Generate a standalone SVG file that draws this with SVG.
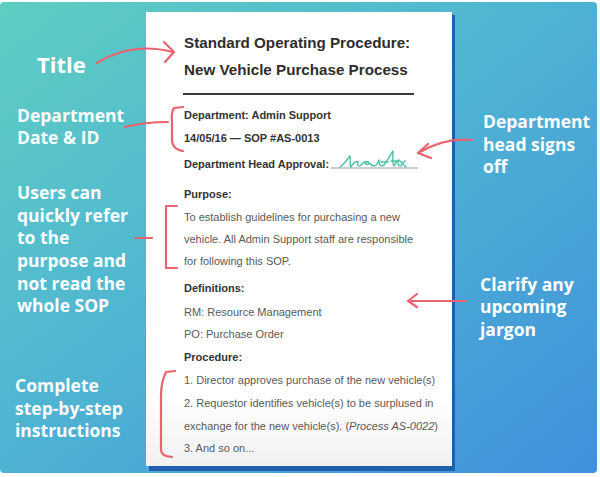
<svg xmlns="http://www.w3.org/2000/svg" width="600" height="477" viewBox="0 0 600 477">
<defs>
<linearGradient id="bg" x1="0" y1="0" x2="1" y2="1">
<stop offset="0" stop-color="#5ecec2"/>
<stop offset="0.45" stop-color="#4fb5d2"/>
<stop offset="1" stop-color="#4090dc"/>
</linearGradient>
<linearGradient id="paper" x1="0" y1="0" x2="0" y2="1">
<stop offset="0.85" stop-color="#ffffff"/>
<stop offset="1" stop-color="#f1f1f1"/>
</linearGradient>
<style>
.lbl{font-family:"Open Sans","DejaVu Sans",sans-serif;font-weight:700;font-size:17.5px;fill:#ffffff}
.h{font-family:"Liberation Sans",Arial,sans-serif;font-weight:700;font-size:15.2px;fill:#2e2e2e}
.b{font-family:"Liberation Sans",Arial,sans-serif;font-weight:700;font-size:11px;fill:#333333}
.t{font-family:"Liberation Sans",Arial,sans-serif;font-size:11px;fill:#5a5a5a}
.red{fill:none;stroke:#e8646f;stroke-width:2.2;stroke-linecap:round;stroke-linejoin:round}
</style>
</defs>
<rect x="0" y="2" width="597" height="471" rx="4" fill="url(#bg)"/>
<g id="document">
<rect x="149" y="15" width="306" height="456" fill="#1f5fae"/>
<rect x="146" y="12" width="306" height="454" fill="url(#paper)"/>
<text class="h" x="184" y="48">Standard Operating Procedure:</text>
<text class="h" x="184" y="75">New Vehicle Purchase Process</text>
<line x1="183" y1="94" x2="414" y2="94" stroke="#3a3a3a" stroke-width="2"/>
<text class="b" x="184" y="119">Department: Admin Support</text>
<text class="b" x="184" y="142">14/05/16 — SOP #AS-0013</text>
<text class="b" x="184" y="168">Department Head Approval:</text>
<line x1="331" y1="168" x2="418" y2="168" stroke="#9a9a9a" stroke-width="1"/>
<path d="M340,167 C343,165 347,160 350,156 C351,161 349,165 351,167 C353,163 355,161 358,162 C357,165 358,167 361,165 C363,162 368,160 369,163 C368,166 364,164 366,162 C369,161 371,166 374,166 C377,166 378,163 379,160 C379,165 380,167 384,165 C388,160 390,155 393,151 C393,158 392,164 394,166 C396,163 396,160 399,160 C397,164 398,166 401,166 C402,164 403,162 405,161 M400,161 L406,167 M396,161 L391,161 M381,162 L388,162" fill="none" stroke="#4fc0a5" stroke-width="1.4" stroke-linecap="round" stroke-linejoin="round"/>
<text class="b" x="184" y="198">Purpose:</text>
<text class="t" x="184" y="221">To establish guidelines for purchasing a new</text>
<text class="t" x="184" y="243">vehicle. All Admin Support staff are responsible</text>
<text class="t" x="184" y="265">for following this SOP.</text>
<text class="b" x="184" y="292">Definitions:</text>
<text class="t" x="184" y="316">RM: Resource Management</text>
<text class="t" x="184" y="338">PO: Purchase Order</text>
<text class="b" x="184" y="361">Procedure:</text>
<text class="t" x="184" y="384">1. Director approves purchase of the new vehicle(s)</text>
<text class="t" x="184" y="407">2. Requestor identifies vehicle(s) to be surplused in</text>
<text class="t" x="184" y="430">exchange for the new vehicle(s). (<tspan font-style="italic">Process AS-0022</tspan>)</text>
<text class="t" x="184" y="452">3. And so on...</text>
</g>
<g id="label-title"><text class="lbl" x="37" y="73" style="font-size:22px">Title</text></g>
<g id="label-dept"><text class="lbl" x="17"><tspan x="17" y="122">Department</tspan><tspan x="17" y="144">Date &amp; ID</tspan></text></g>
<g id="label-purpose"><text class="lbl" x="17"><tspan x="17" y="199">Users can</tspan><tspan x="17" y="222">quickly refer</tspan><tspan x="17" y="244">to the</tspan><tspan x="17" y="267">purpose and</tspan><tspan x="17" y="290">not read the</tspan><tspan x="17" y="312">whole SOP</tspan></text></g>
<g id="label-steps"><text class="lbl" x="15"><tspan x="15" y="392">Complete</tspan><tspan x="15" y="415">step-by-step</tspan><tspan x="15" y="437">instructions</tspan></text></g>
<g id="label-head"><text class="lbl" x="483"><tspan x="483" y="128">Department</tspan><tspan x="483" y="151">head signs</tspan><tspan x="483" y="173">off</tspan></text></g>
<g id="label-jargon"><text class="lbl" x="480"><tspan x="480" y="291">Clarify any</tspan><tspan x="480" y="313">upcoming</tspan><tspan x="480" y="336">jargon</tspan></text></g>
<g id="connectors">
<path class="red" d="M97,63 C118,50 142,44 173,52"/>
<path class="red" d="M164,42 L174,52 L165,62"/>
<path class="red" d="M125,127 Q145,122 168,122"/>
<path class="red" d="M183,107 L174,108 Q171,112 172,122 L172,140 Q172,149 183,151"/>
<path class="red" d="M135,238 L152,238"/>
<path class="red" d="M177,206 L166,206 L166,268 L177,268"/>
<path class="red" d="M472,140 Q445,137 418,153"/>
<path class="red" d="M428,144 L418,153 L431,158"/>
<path class="red" d="M466,301 L408,301"/>
<path class="red" d="M417,294 L408,301 L417,307"/>
<path class="red" d="M175,371 L166,372 Q161,382 161,396 L161,450 Q161,456 172,457"/>
</g>
</svg>
